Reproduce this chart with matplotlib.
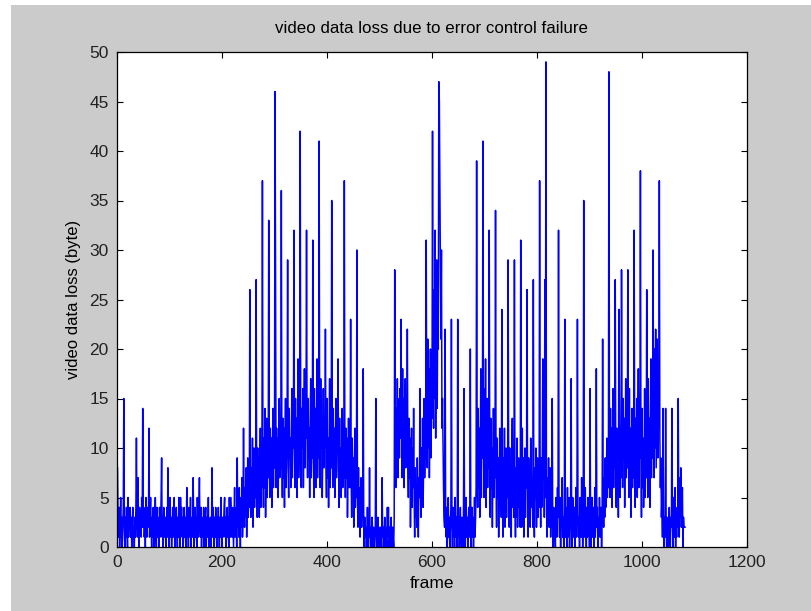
import matplotlib
matplotlib.use("Agg")
import matplotlib.pyplot as plt
from matplotlib.patches import Rectangle
import numpy as np

# video data loss (byte) per frame, one row = one GOP of 12 frames (I-frame first)
low_start = [
    [8, 3, 1, 4, 0, 2, 5, 1, 3, 0, 2, 4],
    [15, 2, 0, 3, 1, 4, 2, 0, 5, 1, 3, 2],
    [4, 1, 3, 0, 2, 4, 1, 2, 0, 3, 1, 4],
    [11, 3, 1, 7, 2, 0, 4, 2, 3, 1, 5, 2],
    [14, 2, 4, 1, 3, 0, 5, 2, 1, 4, 2, 3],
    [12, 1, 3, 5, 2, 0, 3, 1, 4, 2, 0, 3],
    [5, 2, 0, 4, 1, 3, 2, 0, 4, 1, 2, 5],
    [9, 1, 3, 0, 4, 2, 1, 3, 0, 2, 4, 1],
    [8, 3, 0, 2, 5, 1, 3, 0, 2, 4, 1, 2],
    [5, 0, 3, 1, 4, 2, 0, 3, 1, 5, 2, 0],
    [5, 2, 4, 1, 3, 0, 2, 4, 1, 3, 0, 2],
    [6, 1, 3, 0, 4, 2, 1, 5, 0, 2, 3, 1],
    [7, 3, 0, 2, 4, 1, 3, 0, 5, 2, 1, 4],
    [7, 2, 1, 4, 0, 3, 2, 1, 4, 0, 2, 3],
    [4, 0, 3, 1, 2, 5, 0, 2, 1, 3, 0, 2],
    [8, 1, 4, 2, 0, 3, 1, 4, 2, 0, 3, 1],
    [4, 2, 0, 3, 1, 5, 2, 0, 3, 1, 2, 4],
    [5, 1, 3, 0, 2, 4, 1, 3, 0, 5, 2, 1],
    [5, 3, 1, 4, 2, 0, 3, 6, 1, 2, 4, 0],
    [9, 2, 4, 1, 6, 3, 0, 5, 2, 7, 1, 3],
]

burst_1 = [
    [12, 4, 2, 6, 3, 8, 1, 5, 9, 3, 7, 4],
    [26, 5, 3, 8, 4, 11, 2, 6, 10, 4, 7, 5],
    [27, 7, 3, 10, 5, 9, 3, 8, 12, 4, 9, 6],
    [37, 8, 4, 11, 6, 14, 3, 9, 13, 5, 10, 7],
    [33, 9, 5, 12, 7, 11, 4, 10, 14, 6, 11, 8],
    [46, 28, 6, 12, 8, 11, 5, 10, 15, 7, 11, 8],
    [36, 10, 5, 13, 7, 12, 4, 11, 15, 6, 9, 12],
    [29, 8, 5, 14, 9, 11, 6, 10, 16, 7, 12, 10],
    [32, 10, 6, 15, 8, 13, 5, 11, 19, 7, 10, 12],
    [42, 9, 6, 14, 10, 16, 6, 11, 18, 8, 13, 11],
    [32, 11, 7, 15, 9, 12, 5, 13, 17, 7, 10, 9],
    [31, 10, 5, 16, 8, 14, 6, 11, 19, 7, 12, 9],
    [41, 12, 6, 17, 10, 13, 5, 10, 16, 8, 11, 10],
    [22, 9, 5, 15, 7, 11, 4, 10, 17, 6, 11, 8],
    [35, 10, 6, 14, 8, 12, 5, 9, 15, 7, 10, 11],
    [19, 8, 4, 13, 6, 10, 5, 9, 14, 6, 10, 7],
    [37, 10, 5, 12, 7, 11, 3, 8, 13, 6, 9, 6],
    [23, 7, 3, 11, 6, 9, 2, 7, 12, 4, 8, 5],
    [30, 5, 2, 8, 3, 6, 1, 4, 7, 2, 5, 3],
]

quiet_1 = [
    [18, 2, 0, 3, 1, 2, 0, 1, 4, 0, 2, 1],
    [8, 1, 0, 2, 0, 3, 1, 0, 2, 1, 0, 2],
    [15, 2, 0, 1, 3, 0, 2, 1, 0, 2, 1, 0],
    [7, 1, 2, 0, 1, 3, 0, 2, 1, 0, 4, 1],
    [4, 0, 2, 1, 0, 3, 1, 0, 2, 1, 0, 3],
]

burst_2 = [
    [28, 10, 6, 14, 8, 17, 7, 12, 15, 9, 16, 11],
    [23, 13, 7, 18, 9, 15, 6, 14, 17, 8, 12, 10],
    [22, 9, 5, 13, 7, 11, 2, 8, 12, 4, 10, 6],
    [14, 5, 1, 8, 3, 6, 2, 9, 4, 1, 7, 5],
    [16, 6, 3, 10, 5, 13, 4, 8, 15, 7, 11, 9],
    [31, 12, 8, 21, 10, 18, 7, 14, 20, 9, 16, 13],
    [42, 18, 12, 26, 15, 32, 11, 22, 29, 14, 25, 20],
    [47, 45, 36, 28, 21, 30, 12, 15, 10, 6, 3, 2],
]

quiet_2 = [
    [22, 3, 1, 4, 0, 2, 5, 1, 3, 0, 2, 4],
    [23, 2, 0, 4, 1, 3, 0, 5, 2, 1, 3, 0],
    [23, 1, 3, 0, 2, 4, 1, 0, 3, 2, 0, 4],
    [16, 3, 0, 2, 5, 1, 3, 0, 2, 4, 1, 2],
    [20, 0, 2, 4, 1, 3, 0, 2, 5, 1, 3, 6],
]

burst_3 = [
    [39, 8, 4, 14, 6, 12, 3, 10, 18, 5, 13, 9],
    [41, 11, 5, 16, 7, 19, 4, 9, 15, 6, 12, 8],
    [32, 9, 3, 13, 6, 10, 2, 8, 14, 5, 11, 7],
    [34, 7, 2, 11, 5, 9, 1, 6, 12, 4, 8, 3],
    [24, 6, 1, 9, 4, 12, 2, 7, 10, 3, 8, 5],
    [29, 8, 2, 10, 5, 7, 1, 9, 13, 4, 6, 3],
    [29, 5, 1, 8, 3, 11, 2, 6, 9, 4, 7, 2],
    [31, 7, 2, 12, 4, 9, 1, 5, 10, 3, 8, 6],
    [26, 6, 1, 9, 3, 7, 2, 11, 8, 4, 5, 2],
    [27, 4, 1, 8, 5, 10, 2, 6, 9, 3, 7, 4],
    [37, 6, 2, 9, 4, 8, 19, 7, 12, 3, 27, 5],
    [49, 5, 1, 7, 3, 9, 2, 6, 8, 1, 4, 2],
]

quiet_3 = [
    [15, 2, 0, 4, 1, 3, 0, 5, 2, 1, 6, 3],
    [32, 3, 1, 5, 0, 4, 2, 7, 1, 3, 0, 2],
    [23, 1, 4, 2, 0, 6, 1, 3, 5, 0, 2, 4],
    [17, 2, 0, 5, 3, 1, 4, 0, 2, 6, 1, 3],
    [23, 4, 1, 3, 0, 5, 2, 1, 7, 3, 0, 2],
    [35, 1, 3, 6, 2, 0, 4, 1, 5, 2, 3, 0],
    [16, 3, 0, 2, 5, 1, 4, 2, 0, 6, 1, 3],
    [18, 2, 4, 0, 3, 1, 5, 2, 1, 4, 0, 3],
    [21, 5, 2, 7, 3, 9, 4, 6, 11, 5, 8, 6],
]

burst_4 = [
    [48, 10, 5, 14, 7, 12, 4, 9, 16, 6, 13, 8],
    [27, 9, 4, 12, 8, 11, 3, 24, 15, 5, 12, 7],
    [28, 12, 6, 15, 9, 13, 4, 10, 17, 7, 14, 8],
    [28, 10, 5, 16, 8, 12, 3, 9, 14, 6, 11, 7],
    [32, 11, 4, 13, 7, 15, 5, 10, 18, 6, 12, 9],
    [38, 9, 3, 14, 6, 11, 4, 8, 16, 5, 13, 7],
    [26, 10, 5, 17, 8, 13, 4, 11, 19, 7, 14, 9],
    [30, 14, 7, 20, 10, 22, 8, 15, 21, 9, 17, 12],
    [37, 11, 6, 9, 3, 5, 1, 14, 2, 0, 3, 1],
]

tail = [
    [14, 2, 0, 3, 1, 0, 2, 4, 1, 0, 3, 2],
    [14, 3, 0, 5, 2, 1, 6, 0, 3, 1, 4, 2],
    [15, 4, 1, 7, 3, 8, 2, 5, 6, 0, 3, 2],
    [2, 2],
]

segments = [low_start, burst_1, quiet_1, burst_2, quiet_2,
            burst_3, quiet_3, burst_4, tail]
loss = [v for seg in segments for row in seg for v in row]
frames = np.arange(1, len(loss) + 1)

plt.rcParams["font.family"] = ["Liberation Sans", "DejaVu Sans"]
plt.rcParams["font.size"] = 12.5

fig = plt.figure(figsize=(8.12, 6.11), dpi=100, facecolor="white")
fig.patches.append(Rectangle((11 / 812, 0), 1, 606 / 611, transform=fig.transFigure,
                             facecolor="#cbcbcb", edgecolor="none", zorder=-10))

ax = fig.add_axes([117 / 812, 64 / 611, 630 / 812, 495 / 611])
ax.plot(frames, loss, color="#0000ff", linewidth=1.1)

ax.set_xlim(0, 1200)
ax.set_ylim(0, 50)
ax.set_xticks(range(0, 1201, 200))
ax.set_yticks(range(0, 51, 5))
ax.tick_params(direction="in", length=4, width=0.8, top=True, right=True, pad=6,
               labelcolor="#222222")
for s in ax.spines.values():
    s.set_linewidth(0.9)

ax.set_title("video data loss due to error control failure", fontsize=12.2, pad=14)
ax.set_xlabel("frame", labelpad=4)
ax.set_ylabel("video data loss (byte)", fontsize=12, labelpad=6)

fig.savefig("out.png", dpi=100, facecolor=fig.get_facecolor())
